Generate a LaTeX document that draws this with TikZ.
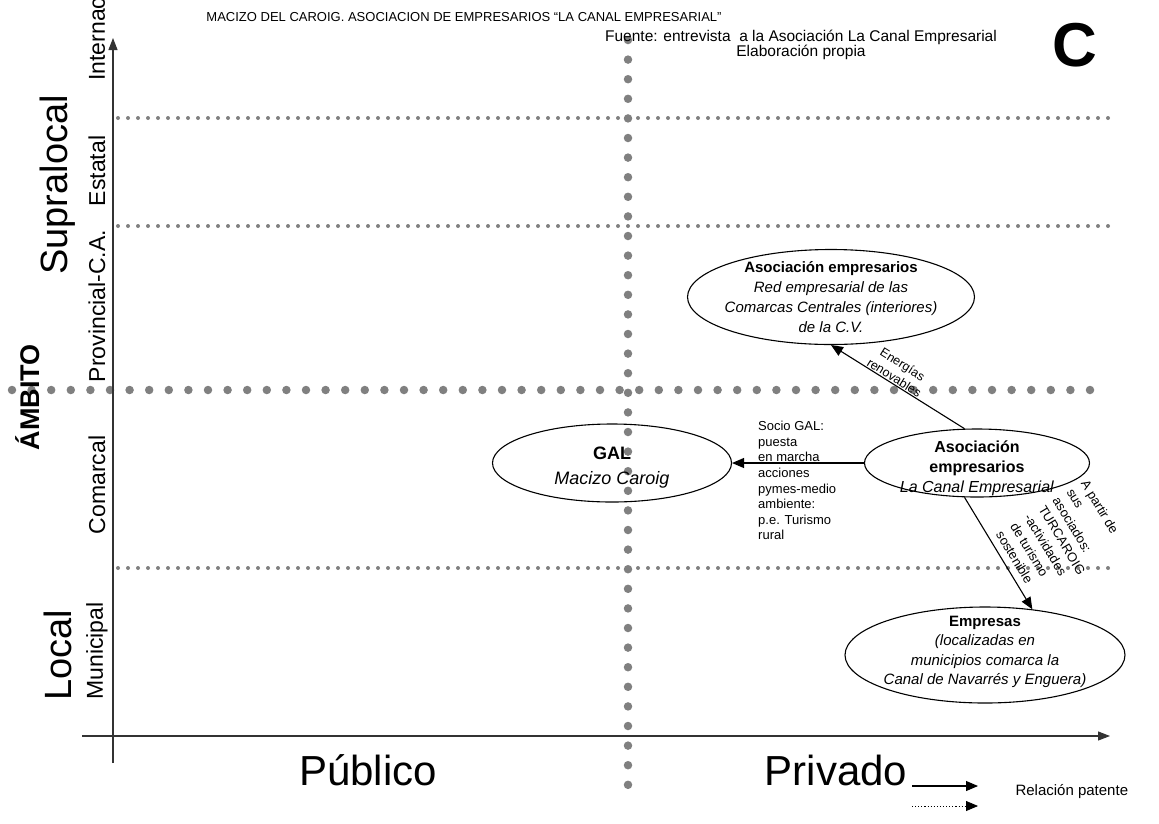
\documentclass[tikz,border=0pt]{standalone}
\usepackage{fontspec}
\setmainfont{Liberation Sans}
\usetikzlibrary{arrows.meta,positioning,shapes.geometric}
\definecolor{DotGray}{RGB}{128,128,128}
\definecolor{AxisGray}{RGB}{51,51,51}
\newcommand{\fsz}[2]{\fontsize{#1}{#2}\selectfont}

\begin{document}
\begin{tikzpicture}[
    x=1pt, y=-1pt,
    finedots/.style={DotGray, line width=4pt, line cap=round, dash pattern=on 0pt off 10pt},
    bigdots/.style={DotGray, line width=8.5pt, line cap=round, dash pattern=on 0pt off 19.6pt},
    axis/.style={-{Triangle[length=12pt,width=9pt]}, line width=1.1pt, AxisGray},
    ent/.style={ellipse, draw, line width=1.1pt, inner sep=0pt},
    etxt/.style={font=\fsz{15}{20}, align=center, inner sep=0pt},
    arr/.style={-{Triangle[length=12pt,width=10pt]}, line width=1.1pt},
    lbl/.style={font=\fsz{12.5}{15.5}, inner sep=1pt},
    lvl/.style={rotate=90, font=\fsz{23}{26}},
    big/.style={font=\fsz{42}{46}}
]
    \useasboundingbox (0,0) rectangle (1159,823);

    % grid of levels and sectors
    \draw[finedots] (118,118) -- (1112,118);
    \draw[finedots] (118,226) -- (1112,226);
    \draw[finedots] (118,568) -- (1112,568);
    \draw[bigdots] (12,390) -- (1100,390);
    \draw[bigdots] (628,40) -- (628,785);

    \draw[axis] (113,763) -- (113,38);
    \draw[axis] (82,736) -- (1110,736);

    % entities
    \node[ent, minimum width=287pt, minimum height=95pt,
        label={[etxt]center:{\textbf{Asociación empresarios}\\\textit{Red empresarial de las}\\\textit{Comarcas Centrales (interiores)}\\\textit{de la C.V.}}}] (red) at (831,297) {};
    \node[ent, minimum width=239pt, minimum height=78pt,
        label={[etxt, font=\fsz{18}{25}, yshift=-5pt]center:{\textbf{GAL}\\\textit{Macizo Caroig}}}] (gal) at (612,463) {};
    \node[ent, minimum width=225pt, minimum height=68pt,
        label={[etxt, font=\fsz{16}{20}, yshift=-5pt]center:{\textbf{Asociación}\\\textbf{empresarios}\\\textit{La Canal Empresarial}}}] (canal) at (977,463) {};
    \node[ent, minimum width=280pt, minimum height=96pt,
        label={[etxt, font=\fsz{15}{19.5}, yshift=3pt]center:{\textbf{Empresas}\\\textit{(localizadas en}\\\textit{municipios comarca la}\\\textit{Canal de Navarrés y Enguera)}}}] (emp) at (985,655) {};

    % relations
    \draw[arr] (canal.110) -- node[lbl, sloped, above, pos=0.55, align=center] {Energías\\renovables} (red.south);
    \draw[arr] (canal) -- (gal);
    \draw[arr] (canal.-110) -- (emp.44);

    \node[lbl, font=\fsz{13}{15.6}, align=left, anchor=north west] (socio) at (757,420)
        {Socio GAL:\\puesta\\en marcha\\acciones\\pymes-medio\\ambiente:\\p.e. Turismo\\rural};
    \node[lbl, font=\fsz{13}{16.5}, rotate=-59, anchor=north west, align=left] (turcaroig) at (1089,477)
        {A partir de\\sus\\asociados:\\TURCAROIG\\-actividades\\de turismo\\sostenible};

    % axis labels
    \node[lvl] (intl) at (97,36) {Internac.};
    \node[lvl] (estatal) at (97,171) {Estatal};
    \node[lvl] (prov) at (97,306) {Provincial-C.A.};
    \node[lvl] (comarcal) at (97,485) {Comarcal};
    \node[lvl] (munic) at (97,651) {Municipal};
    \node[lvl, font=\fsz{38}{40}] (supra) at (58,185) {Supralocal};
    \node[lvl, font=\fsz{38}{40}] (local) at (58,655) {Local};
    \node[lvl, font=\bfseries\fsz{27}{30}] (ambito) at (28,397) {ÁMBITO};

    \node[big] (pub) at (368,770) {Público};
    \node[big] (priv) at (836,770) {Privado};

    % heading
    \node[font=\fsz{13}{15}] (title) at (464,17) {MACIZO DEL CAROIG. ASOCIACION DE EMPRESARIOS “LA CANAL EMPRESARIAL”};
    \node[font=\fsz{15.5}{15}, align=center] (src) at (801,45) {Fuente: entrevista\ \ a la Asociación La Canal Empresarial\\Elaboración propia};
    \node[font=\bfseries\fsz{62}{64}] (tag) at (1075,45) {C};

    % legend
    \coordinate (ls1) at (912,786);
    \coordinate (le1) at (978,786);
    \coordinate (ls2) at (912,806);
    \coordinate (le2) at (978,806);
    \draw[arr] (ls1) -- (le1);
    \draw[arr, dotted, line width=0.8pt] (ls2) -- (le2);
    \node[font=\fsz{15}{17}, anchor=west] (legend) at (1012,792) {Relación patente};
\end{tikzpicture}
\end{document}
